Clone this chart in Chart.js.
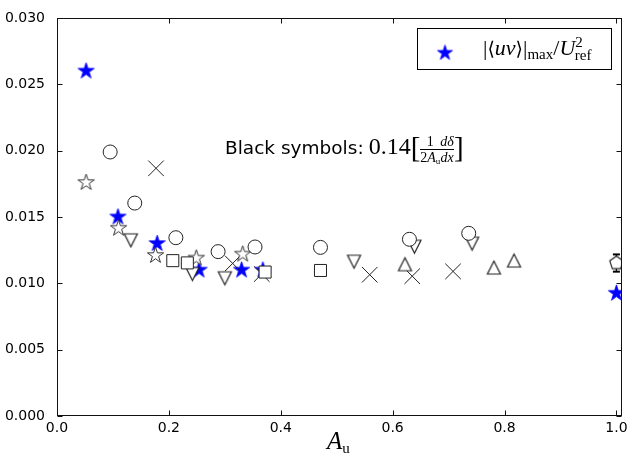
<!DOCTYPE html>
<html>
<head>
<meta charset="utf-8">
<script src="https://cdn.jsdelivr.net/npm/chart.js@4/dist/chart.umd.min.js"></script>
<style>
  html, body { margin:0; padding:0; background:#fff; }
  #wrap { position:relative; width:635px; height:462px; }
  canvas { position:absolute; left:0; top:0; }
  .ov { position:absolute; white-space:nowrap; color:#000; will-change:transform; }
  #note { left:225px; top:133px; font-family:'DejaVu Sans', sans-serif; font-size:18.5px; line-height:26px; }
  #note .m { font-family:'Liberation Serif', serif; font-size:24px; }
  #note .br { font-family:'Liberation Serif', serif; font-size:29px; vertical-align:-3px; }
  #note .frac { display:inline-block; vertical-align:middle; font-family:'Liberation Serif', serif; font-size:14px; text-align:center; }
  #note .frac span { display:block; line-height:15px; height:15px; padding:0; }
  #note .frac .n { border-bottom:1px solid #000; }
  #note sub { font-size:9px; vertical-align:-2px; font-style:normal; }
  #legend { left:417px; top:28px; width:193px; height:40px; border:1px solid #000; background:#fff; }
  #legend canvas { position:absolute; left:16px; top:13px; }
  #legend .lt { position:absolute; left:65px; top:5px; font-family:'Liberation Serif', serif; font-size:22px; color:#000; }
  #legend .ang { font-family:'DejaVu Serif', serif; font-size:19px; color:#000; }
  #legend sub.mx { font-size:15px; vertical-align:-4px; }
  #legend sup.s2 { font-size:15px; vertical-align:8px; }
  #legend sub.rf { font-size:15px; vertical-align:-5px; margin-left:-8px; }
  #xt { left:327px; top:427px; font-family:'Liberation Serif', serif; font-size:25px; }
  #xt sub { font-size:15px; vertical-align:-4px; font-style:normal; }
</style>
</head>
<body>
<div id="wrap">
  <canvas id="c" width="635" height="462"></canvas>
  <div id="note" class="ov">Black symbols:<span class="m" style="margin-left:5px">0.14</span><span class="br">[</span><span class="frac"><span class="n">1</span><span class="d">2<i>A</i><sub>u</sub></span></span><span class="frac"><span class="n"><i>dδ</i></span><span class="d"><i>dx</i></span></span><span class="br">]</span></div>
  <div id="legend" class="ov"><canvas id="lg" width="22" height="22"></canvas><span class="lt">|<span class="ang">⟨</span><i>uv</i><span class="ang">⟩</span>|<sub class="mx">max</sub>/<i>U</i><sup class="s2">2</sup><sub class="rf">ref</sub></span></div>
  <div id="xt" class="ov"><i>A</i><sub>u</sub></div>
</div>
<script>
// ---- data ----
const xTicks = [0.0, 0.2, 0.4, 0.6, 0.8, 1.0];
const xTickLabels = ['0.0', '0.2', '0.4', '0.6', '0.8', '1.0'];
const yTicks = [0.000, 0.005, 0.010, 0.015, 0.020, 0.025, 0.030];
const yTickLabels = ['0.000', '0.005', '0.010', '0.015', '0.020', '0.025', '0.030'];

const blueStarX = [0.052, 0.109, 0.179, 0.254, 0.330, 0.368, 1.000];
const blueStarY = [0.0260, 0.0150, 0.0130, 0.0110, 0.0110, 0.0110, 0.00925];

const openStarX = [0.052, 0.110, 0.176, 0.249, 0.332];
const openStarY = [0.0176, 0.01415, 0.0121, 0.0119, 0.0122];

const circleX = [0.095, 0.139, 0.2125, 0.288, 0.354, 0.471, 0.630, 0.736];
const circleY = [0.0199, 0.01605, 0.01344, 0.01239, 0.01274, 0.01271, 0.01332, 0.01377];

const triDownX = [0.132, 0.242, 0.300, 0.531, 0.639, 0.742];
const triDownY = [0.01324, 0.0107, 0.01038, 0.01163, 0.01276, 0.01299];

const triUpX = [0.622, 0.781, 0.817];
const triUpY = [0.01144, 0.01119, 0.01172];

const squareX = [0.207, 0.233, 0.372, 0.471];
const squareY = [0.01171, 0.01154, 0.01085, 0.01097];

const crossX = [0.177, 0.314, 0.366, 0.559, 0.635, 0.708];
const crossY = [0.01867, 0.0115, 0.0107, 0.01065, 0.01054, 0.0109];

const pentX = [1.000];
const pentY = [0.01153];
const pentErr = [0.00065];

// ---- helpers ----
const zip = (xs, ys) => xs.map((x, i) => ({ x, y: ys[i] }));
const EDGE = '#222';

function marker(shape, R, fill, stroke, lw) {
  const s = Math.ceil(2 * R + 4) | 1;
  const cv = document.createElement('canvas');
  cv.width = s; cv.height = s;
  const g = cv.getContext('2d');
  const c = s / 2;
  g.beginPath();
  if (shape === 'star') {
    const ri = R * 0.381966;
    for (let k = 0; k < 10; k++) {
      const r = k % 2 ? ri : R;
      const a = -Math.PI / 2 + k * Math.PI / 5;
      const px = c + r * Math.cos(a), py = c + r * Math.sin(a);
      k ? g.lineTo(px, py) : g.moveTo(px, py);
    }
  } else if (shape === 'pent') {
    for (let k = 0; k < 5; k++) {
      const a = -Math.PI / 2 + k * 2 * Math.PI / 5;
      const px = c + R * Math.cos(a), py = c + R * Math.sin(a);
      k ? g.lineTo(px, py) : g.moveTo(px, py);
    }
  } else if (shape === 'tdown') {
    g.moveTo(c - R, c - R); g.lineTo(c + R, c - R); g.lineTo(c, c + R);
  } else if (shape === 'tup') {
    g.moveTo(c - R, c + R); g.lineTo(c + R, c + R); g.lineTo(c, c - R);
  }
  g.closePath();
  if (fill) { g.fillStyle = fill; g.fill(); }
  if (stroke) { g.strokeStyle = stroke; g.lineWidth = lw; g.stroke(); }
  return cv;
}

const blueStar = marker('star', 8.5, '#0000ff', '#0000ff', 0.8);
const openStar = marker('star', 8.5, '#ffffff', '#333', 1);
const triDown = marker('tdown', 6.5, '#ffffff', EDGE, 1.2);
const triUp = marker('tup', 6.5, '#ffffff', EDGE, 1.2);
const pent = marker('pent', 7, '#ffffff', EDGE, 1.2);

// legend star
(function () {
  const g = document.getElementById('lg').getContext('2d');
  const src = marker('star', 8, '#0000ff', '#0000ff', 0.8);
  g.drawImage(src, (22 - src.width) / 2, (22 - src.height) / 2);
})();

const scatterBase = { type: 'scatter', showLine: false, clip: 0 };

const frame = {
  id: 'frame',
  afterDraw(chart) {
    const { ctx, chartArea: a, scales: { x, y } } = chart;
    ctx.save();
    ctx.strokeStyle = '#111';
    ctx.lineWidth = 1;
    const L = Math.round(a.left) + 0.5, R = Math.round(a.right) - 0.5;
    const T = Math.round(a.top) + 0.5, B = Math.round(a.bottom) - 0.5;
    ctx.strokeRect(L, T, R - L, B - T);
    ctx.beginPath();
    xTicks.forEach(v => {
      const p = Math.round(x.getPixelForValue(v)) + 0.5;
      ctx.moveTo(p, B); ctx.lineTo(p, B - 5);
      ctx.moveTo(p, T); ctx.lineTo(p, T + 5);
    });
    yTicks.forEach(v => {
      const p = Math.round(y.getPixelForValue(v)) + 0.5;
      ctx.moveTo(L, p); ctx.lineTo(L + 5, p);
      ctx.moveTo(R, p); ctx.lineTo(R - 5, p);
    });
    ctx.stroke();
    ctx.restore();
  }
};

Chart.defaults.font.family = "'DejaVu Sans', sans-serif";
Chart.defaults.font.size = 14;
Chart.defaults.color = '#000';

new Chart(document.getElementById('c'), {
  type: 'scatter',
  data: {
    datasets: [
      { ...scatterBase, label: 'circles', data: zip(circleX, circleY), pointStyle: 'circle', pointRadius: 7,
        backgroundColor: '#fff', borderColor: EDGE, borderWidth: 1, order: 1 },
      { ...scatterBase, label: 'squares', data: zip(squareX, squareY), pointStyle: 'rect', pointRadius: 8.5,
        backgroundColor: '#fff', borderColor: EDGE, borderWidth: 1, order: 1 },
      { ...scatterBase, label: 'triDown', data: zip(triDownX, triDownY), pointStyle: triDown, pointRadius: 7, order: 1 },
      { ...scatterBase, label: 'triUp', data: zip(triUpX, triUpY), pointStyle: triUp, pointRadius: 7, order: 1 },
      { ...scatterBase, label: 'openStar', data: zip(openStarX, openStarY), pointStyle: openStar, pointRadius: 9, order: 1 },
      { ...scatterBase, label: 'cross', data: zip(crossX, crossY), pointStyle: 'crossRot', pointRadius: 11,
        borderColor: EDGE, borderWidth: 1, order: 1 },
      { type: 'line', label: 'err', showLine: true, clip: 0, data: pentX.flatMap((x, i) => [{ x, y: pentY[i] - pentErr[i] }, { x, y: pentY[i] + pentErr[i] }]),
        borderColor: '#000', borderWidth: 1.3, pointStyle: 'line', pointRadius: 3.5, pointBorderWidth: 2, pointBorderColor: '#000', order: 2 },
      { ...scatterBase, label: 'pent', data: zip(pentX, pentY), pointStyle: pent, pointRadius: 7, order: 1 },
      { ...scatterBase, label: 'blue', data: zip(blueStarX, blueStarY), pointStyle: blueStar, pointRadius: 9, order: 5 }
    ]
  },
  options: {
    responsive: false,
    animation: false,
    events: [],
    devicePixelRatio: 1,
    layout: { padding: { left: 0, top: 18, right: 13, bottom: 0 } },
    plugins: { legend: { display: false }, tooltip: { enabled: false } },
    scales: {
      x: {
        type: 'linear', min: 0, max: 1.01,
        grid: { display: false }, border: { display: false },
        afterBuildTicks: s => { s.ticks = xTicks.map(v => ({ value: v })); },
        afterFit: s => { s.height = 46; },
        ticks: { padding: -4, maxRotation: 0, callback: (v, i) => xTickLabels[i] }
      },
      y: {
        type: 'linear', min: 0, max: 0.030,
        grid: { display: false }, border: { display: false },
        afterBuildTicks: s => { s.ticks = yTicks.map(v => ({ value: v })); },
        afterFit: s => { s.width = 57; },
        ticks: { padding: 4, callback: (v, i) => yTickLabels[i] }
      }
    }
  },
  plugins: [frame]
});
</script>
</body>
</html>
